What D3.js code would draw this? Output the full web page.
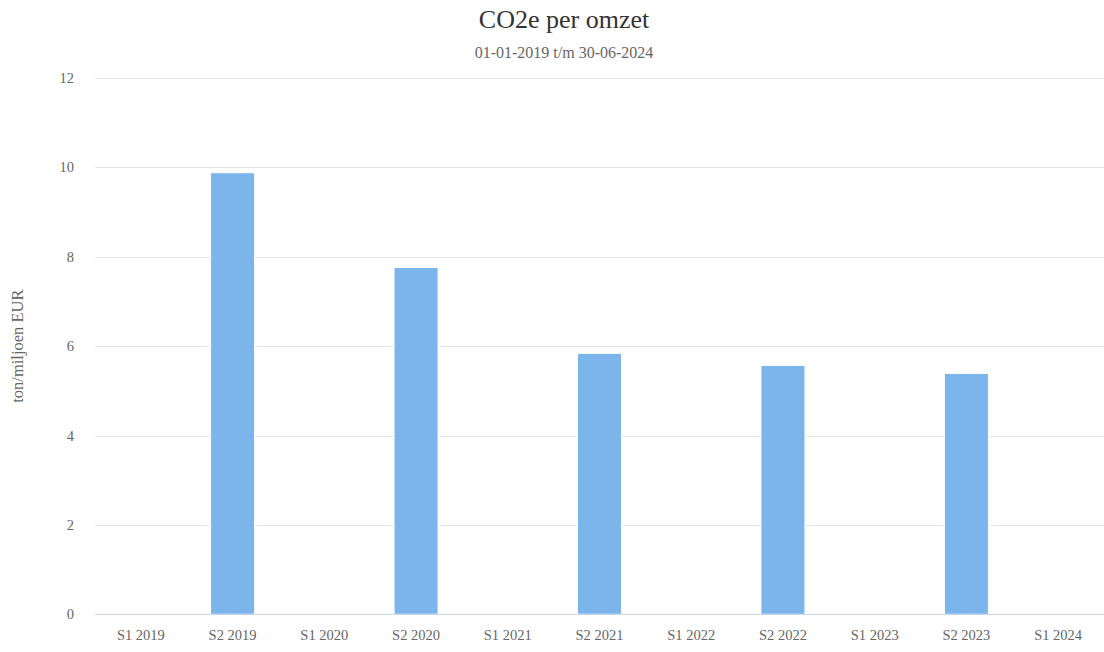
<!DOCTYPE html>
<html><head><meta charset="utf-8">
<script src="https://cdn.jsdelivr.net/npm/d3@7"></script>
<style>body{margin:0;background:#fff}svg{display:block}</style>
</head><body><svg id="c" width="1104" height="652"></svg>
<script>
const categories = ["S1 2019","S2 2019","S1 2020","S2 2020","S1 2021","S2 2021","S1 2022","S2 2022","S1 2023","S2 2023","S1 2024"];
const values = [0, 9.88, 0, 7.76, 0, 5.84, 0, 5.57, 0, 5.39, 0];
const yTicks = [0, 2, 4, 6, 8, 10, 12];
const title = "CO2e per omzet";
const subtitle = "01-01-2019 t/m 30-06-2024";
const yTitle = "ton/miljoen EUR";
const FF = "'Liberation Serif', serif";

const svg = d3.select("#c");
const L = 95, R = 1104, T = 78, B = 614.3;
const x = d3.scaleBand().domain(categories).range([L, R]);
const y = d3.scaleLinear().domain([0, 12]).range([B, T]);

svg.append("text").attr("x", 564).attr("y", 28).attr("text-anchor", "middle")
  .style("font-family", FF).attr("font-size", 26).attr("fill", "#333").text(title);
svg.append("text").attr("x", 564).attr("y", 58).attr("text-anchor", "middle")
  .style("font-family", FF).attr("font-size", 16).attr("fill", "#666").text(subtitle);

svg.append("g").selectAll("line").data(yTicks.filter(d => d > 0)).join("line")
  .attr("x1", L).attr("x2", R).attr("y1", d => Math.round(y(d)) + 0.5).attr("y2", d => Math.round(y(d)) + 0.5)
  .attr("stroke", "#e6e6e6");

svg.append("g").selectAll("text").data(yTicks).join("text")
  .attr("x", 74).attr("y", d => y(d) + 5).attr("text-anchor", "end")
  .style("font-family", FF).attr("font-size", 14.5).attr("fill", "#666").text(d => d);

svg.append("text").attr("transform", `translate(23,${(T + B) / 2}) rotate(-90)`)
  .style("font-family", FF).attr("text-anchor", "middle").attr("font-size", 16.5).attr("fill", "#666").text(yTitle);

const bw = x.bandwidth() * 0.48;
svg.append("g").selectAll("rect").data(categories.map((c, i) => ({c, v: values[i]})).filter(d => d.v > 0)).join("rect")
  .attr("x", d => x(d.c) + (x.bandwidth() - bw) / 2)
  .attr("y", d => y(d.v))
  .attr("width", bw)
  .attr("height", d => y(0) - y(d.v))
  .attr("fill", "#7cb5ec").attr("stroke", "#fff").attr("stroke-width", 1);

svg.append("line").attr("x1", L).attr("x2", R).attr("y1", 614.5).attr("y2", 614.5).attr("stroke", "#ccd6eb");

svg.append("g").selectAll("text").data(categories).join("text")
  .attr("x", d => x(d) + x.bandwidth() / 2).attr("y", 640).attr("text-anchor", "middle")
  .style("font-family", FF).attr("font-size", 14.5).attr("fill", "#666").text(d => d);
</script></body></html>
